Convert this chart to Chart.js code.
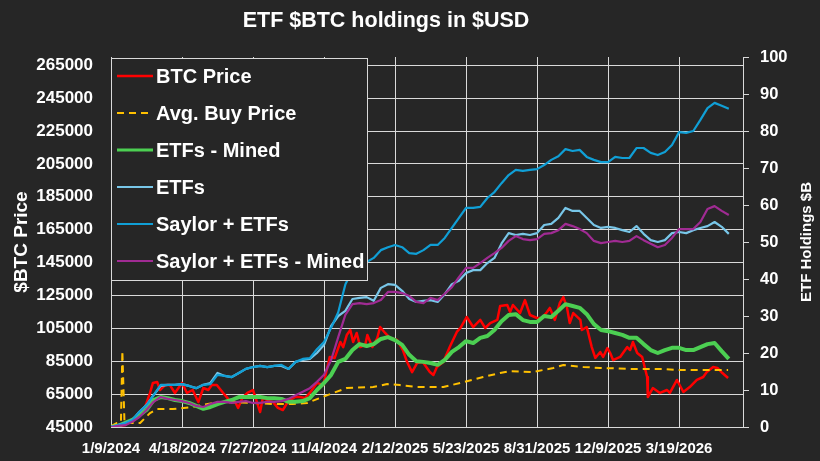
<!DOCTYPE html>
<html>
<head>
<meta charset="utf-8">
<script src="https://cdn.jsdelivr.net/npm/chart.js@4.4.1/dist/chart.umd.min.js"></script>
<style>
    html, body { margin: 0; padding: 0; background: #262626; }
    canvas { display: block; }
</style>
</head>
<body>
<canvas id="etf-chart" width="820" height="461"></canvas>
<script>
// Ngày tính từ 1/9/2024 (mỗi điểm cách nhau 10 ngày)
const days = [0, 10, 20, 30, 40, 50, 60, 70, 80, 90,
    100, 110, 120, 130, 140, 150, 160, 170, 180, 190,
    200, 210, 220, 230, 240, 250, 260, 270, 280, 290,
    300, 310, 320, 330, 340, 350, 360, 370, 380, 390,
    400, 410, 420, 430, 440, 450, 460, 470, 480, 490,
    500, 510, 520, 530, 540, 550, 560, 570, 580, 590,
    600, 610, 620, 630, 640, 650, 660, 670, 680, 690,
    700, 710, 720, 730, 740, 750, 760, 770, 780, 790,
    800, 810, 820, 830, 840, 850, 860, 870];

const tickLabels = ['1/9/2024', '4/18/2024', '7/27/2024', '11/4/2024', '2/12/2025',
    '5/23/2025', '8/31/2025', '12/9/2025', '3/19/2026'];

const priceTicks = [45000, 65000, 85000, 105000, 125000, 145000, 165000, 185000,
    205000, 225000, 245000, 265000];

// Giá BTC (trục trái) - lấy mẫu dày hơn để giữ các gai nhọn
const btcDays = [0, 10, 20, 30, 38, 48, 55, 59, 65, 69, 76, 83, 90, 97, 100, 107, 115, 123,
    130, 137, 142, 149, 158, 163, 168, 175, 179, 185, 192, 200, 210, 214, 221, 228, 235,
    242, 248, 252, 259, 266, 273, 280, 290, 299, 308, 315, 323, 327, 332, 337, 341, 346,
    351, 358, 361, 368, 375, 379, 386, 393, 403, 411, 417, 424, 431, 439, 449, 454, 459,
    468, 477, 487, 492, 501, 510, 520, 527, 534, 544, 548, 558, 562, 566, 576, 583, 590,
    600, 607, 614, 618, 625, 632, 637, 642, 646, 651, 661, 663, 670, 677, 682, 689, 693,
    699, 703, 707, 717, 727, 731, 735, 741, 748, 755, 756, 763, 773, 783, 787, 797, 806,
    815, 825, 834, 839, 848, 854, 861, 869];
const btcPrice = [45000, 45600, 46200, 49300, 51100, 57200, 65700, 71800, 72400, 67500,
    70500, 70500, 65700, 69900, 71800, 65700, 67500, 60200, 68700, 67500, 70500, 70500,
    65700, 63200, 60200, 60200, 56600, 62600, 65700, 67500, 54100, 63200, 60800, 60200,
    56600, 55300, 59600, 61400, 63200, 63200, 62600, 65700, 71800, 70500, 87600, 87000,
    96700, 93600, 100900, 104000, 96700, 102200, 93600, 94900, 100900, 93600, 99100,
    105800, 102200, 99100, 97900, 91800, 84500, 78400, 83900, 84500, 78400, 76600, 81500,
    84500, 93600, 102800, 105200, 111900, 105800, 110100, 105200, 108200, 110100, 118600,
    119200, 114900, 119200, 114300, 122200, 113100, 111300, 111300, 114900, 117400, 110100,
    120400, 124000, 118000, 108200, 114300, 110100, 104000, 105800, 93600, 87000, 90600,
    87600, 93000, 90000, 85700, 87600, 93600, 91800, 96700, 90000, 87600, 75400, 63200,
    68700, 65700, 67500, 65700, 73600, 66300, 69300, 73600, 75400, 78400, 81500, 80900,
    77800, 74800];

// Giá mua trung bình (trục trái, lấy mẫu riêng)
const avgDays = [0, 8, 14, 16, 19, 41, 55, 65, 87, 115, 144, 172, 200, 228, 256, 276, 294,
    313, 332, 369, 389, 407, 431, 468, 492, 524, 548, 562, 594, 623, 637, 665, 689,
    735, 777, 797, 869];
const avgBuyPrice = [45600, 47400, 48000, 91200, 47400, 47400, 53500, 55900, 55900, 57200,
    59600, 60200, 59600, 59000, 59000, 59600, 62600, 65700, 68700, 69300, 71100,
    70500, 69300, 69300, 71800, 75400, 77800, 79000, 78400, 80900, 82700, 81500,
    80900, 80300, 80300, 79700, 79700];

// Giá trị nắm giữ, tỷ USD (trục phải)
const etfsMined = [0, 0.3, 1.1, 1.9, 3.2, 4.6, 7.3, 8.1, 7.8, 7.3,
    7.0, 6.5, 5.7, 4.9, 5.4, 6.2, 6.8, 7.3, 8.1, 8.1,
    8.1, 8.1, 7.8, 7.8, 7.6, 6.8, 6.8, 7.0, 7.8, 10.0,
    11.9, 14.1, 17.6, 18.4, 20.8, 22.4, 21.9, 22.4, 23.8, 24.3,
    23.5, 22.2, 19.5, 17.8, 17.6, 17.3, 16.8, 18.1, 20.3, 21.6,
    23.2, 22.7, 24.1, 24.6, 26.2, 28.6, 30.3, 30.5, 28.9, 28.4,
    28.4, 30.0, 29.7, 31.4, 33.2, 32.7, 32.2, 30.5, 27.8, 26.2,
    25.9, 25.4, 24.9, 24.1, 24.1, 22.4, 20.8, 20.0, 20.8, 21.4,
    21.4, 20.8, 20.8, 21.6, 22.4, 22.7, 20.5, 18.4];

const etfs = [0, 0.5, 1.1, 1.9, 4.1, 5.9, 8.6, 11.1, 11.4, 11.4,
    11.6, 11.1, 10.5, 11.4, 11.9, 14.6, 13.8, 13.5, 14.6, 15.7,
    16.2, 16.5, 16.2, 16.5, 16.5, 15.7, 17.6, 18.1, 18.4, 20.0,
    22.2, 27.3, 30.0, 31.4, 34.6, 34.9, 35.1, 34.1, 37.6, 38.6,
    38.4, 36.8, 34.6, 33.8, 34.1, 34.3, 33.8, 35.9, 38.6, 39.5,
    41.6, 42.4, 42.4, 44.3, 45.7, 49.6, 52.4, 51.9, 52.2, 51.9,
    52.4, 54.6, 54.9, 56.5, 59.2, 58.4, 58.4, 56.5, 54.6, 53.8,
    54.1, 53.8, 53.2, 52.7, 54.3, 52.2, 50.5, 50.0, 50.5, 52.4,
    52.7, 52.4, 53.2, 53.8, 54.3, 55.4, 54.1, 52.2];

const saylorEtfs = [0, 0.5, 1.1, 1.9, 4.1, 5.9, 8.6, 11.4, 11.4, 11.4,
    11.6, 11.1, 10.5, 11.4, 11.6, 14.1, 13.8, 13.5, 14.6, 15.7,
    16.2, 16.5, 16.2, 16.5, 16.8, 15.7, 17.6, 18.4, 18.6, 21.0,
    23.0, 26.8, 31.0, 38.5, 42.4, 43.8, 44.6, 45.7, 47.8, 48.6,
    49.2, 48.6, 47.0, 46.8, 47.8, 49.2, 49.2, 51.1, 53.8, 56.5,
    59.2, 59.2, 59.5, 61.9, 63.5, 65.9, 68.1, 69.5, 69.2, 69.5,
    69.7, 70.8, 72.2, 73.2, 75.1, 74.6, 74.9, 73.0, 72.2, 71.6,
    71.6, 73.0, 72.7, 72.7, 75.4, 75.4, 74.1, 73.5, 74.3, 76.2,
    79.7, 79.5, 80.0, 83.0, 86.2, 87.6, 86.8, 86.0];

const saylorEtfsMined = [0, 0.3, 0.5, 1.4, 2.7, 4.6, 6.8, 8.1, 7.6, 7.3,
    7.0, 6.5, 5.7, 5.4, 6.2, 6.8, 6.8, 6.5, 6.8, 7.0,
    6.5, 6.5, 6.8, 6.8, 7.0, 7.6, 8.6, 9.5, 10.5, 12.2,
    14.1, 18.1, 24.3, 30.3, 33.2, 33.5, 33.2, 33.5, 34.3, 36.5,
    36.5, 36.2, 35.4, 33.8, 33.5, 34.9, 34.3, 36.0, 37.8, 40.5,
    43.0, 43.0, 44.3, 45.7, 47.0, 48.4, 50.3, 51.6, 50.8, 50.5,
    50.8, 52.2, 52.4, 53.2, 54.9, 54.3, 53.5, 52.4, 50.3, 49.7,
    50.0, 50.3, 50.0, 50.3, 51.6, 50.5, 49.5, 48.6, 49.2, 51.1,
    53.5, 53.5, 53.5, 55.4, 58.9, 59.7, 58.4, 57.3];

const FONT = "'Liberation Sans', Arial, sans-serif";
const TEXT = '#ffffff';
const GRID = '#d9d9d9';
const BG = '#262626';

function toPoints(xs, ys) {
    return ys.map((v, i) => ({ x: xs[i], y: v }));
}

// Nền, tiêu đề, chú thích và tên trục
const decorPlugin = {
    id: 'decor',
    beforeDraw(chart) {
        const ctx = chart.ctx;
        ctx.save();
        ctx.fillStyle = BG;
        ctx.fillRect(0, 0, chart.width, chart.height);
        ctx.restore();
    },
    afterDatasetsDraw(chart) {
        const ctx = chart.ctx;
        ctx.save();
        // Hộp chú thích
        ctx.fillStyle = BG;
        ctx.fillRect(111, 58, 256, 222);
        ctx.strokeStyle = GRID;
        ctx.lineWidth = 1;
        ctx.strokeRect(111.5, 58.5, 256, 222);

        chart.data.datasets.forEach((ds, i) => {
            const y = 76 + i * 37;
            ctx.beginPath();
            ctx.strokeStyle = ds.borderColor;
            ctx.lineWidth = Math.min(ds.borderWidth, 3);
            ctx.setLineDash(ds.borderDash || []);
            ctx.moveTo(117, y);
            ctx.lineTo(153, y);
            ctx.stroke();
            ctx.setLineDash([]);
            ctx.fillStyle = TEXT;
            ctx.font = 'bold 20px ' + FONT;
            ctx.textAlign = 'left';
            ctx.textBaseline = 'alphabetic';
            ctx.fillText(ds.label, 156, y + 7);
        });
        ctx.restore();
    },
    afterDraw(chart) {
        const ctx = chart.ctx;
        ctx.save();
        ctx.fillStyle = TEXT;
        ctx.textAlign = 'center';
        ctx.textBaseline = 'alphabetic';
        ctx.font = 'bold 21.5px ' + FONT;
        ctx.fillText('ETF $BTC holdings in $USD', 386, 27);

        ctx.save();
        ctx.translate(20, 242);
        ctx.rotate(-Math.PI / 2);
        ctx.font = 'bold 19px ' + FONT;
        ctx.fillText('$BTC Price', 0, 7);
        ctx.restore();

        ctx.save();
        ctx.translate(805, 242);
        ctx.rotate(-Math.PI / 2);
        ctx.font = 'bold 15px ' + FONT;
        ctx.fillText('ETF Holdings $B', 0, 5.5);
        ctx.restore();
        ctx.restore();
    }
};

const ctx = document.getElementById('etf-chart').getContext('2d');

new Chart(ctx, {
    type: 'line',
    data: {
        datasets: [
            {
                label: 'BTC Price',
                data: toPoints(btcDays, btcPrice),
                borderColor: '#ff0000',
                borderWidth: 2.5,
                yAxisID: 'y',
                order: 6
            },
            {
                label: 'Avg. Buy Price',
                data: toPoints(avgDays, avgBuyPrice),
                borderColor: '#ffc000',
                borderWidth: 2,
                borderDash: [7, 5],
                yAxisID: 'y',
                order: 5
            },
            {
                label: 'ETFs - Mined',
                data: toPoints(days, etfsMined),
                borderColor: '#4ccf52',
                borderWidth: 4,
                yAxisID: 'y1',
                order: 4
            },
            {
                label: 'ETFs',
                data: toPoints(days, etfs),
                borderColor: '#78c6e8',
                borderWidth: 2.2,
                yAxisID: 'y1',
                order: 3
            },
            {
                label: 'Saylor + ETFs',
                data: toPoints(days, saylorEtfs),
                borderColor: '#109fd6',
                borderWidth: 2.2,
                yAxisID: 'y1',
                order: 2
            },
            {
                label: 'Saylor + ETFs - Mined',
                data: toPoints(days, saylorEtfsMined),
                borderColor: '#a02b93',
                borderWidth: 2.2,
                yAxisID: 'y1',
                order: 1
            }
        ]
    },
    options: {
        responsive: false,
        animation: false,
        devicePixelRatio: 1,
        layout: { padding: { top: 57, left: 0, right: 0, bottom: 0 } },
        elements: {
            point: { radius: 0 },
            line: { tension: 0, borderJoinStyle: 'round', fill: false }
        },
        plugins: {
            legend: { display: false },
            title: { display: false },
            tooltip: { enabled: false }
        },
        scales: {
            x: {
                type: 'linear',
                position: 'bottom',
                min: 0,
                max: 890,
                afterBuildTicks(scale) {
                    scale.ticks = tickLabels.map((_, i) => ({ value: i * 100 }));
                },
                afterFit(scale) { scale.height = 34; },
                ticks: {
                    autoSkip: false,
                    maxRotation: 0,
                    padding: 13,
                    color: TEXT,
                    font: { family: FONT, size: 15, weight: 'bold' },
                    callback: (v) => tickLabels[Math.round(v / 100)]
                },
                grid: { color: GRID, lineWidth: 1, drawTicks: false },
                border: { display: true, color: GRID }
            },
            y: {
                position: 'left',
                min: 45000,
                max: 270000,
                afterBuildTicks(scale) {
                    scale.ticks = priceTicks.map(v => ({ value: v }));
                },
                afterFit(scale) { scale.width = 111; },
                ticks: {
                    padding: 18,
                    color: TEXT,
                    font: { family: FONT, size: 17, weight: 'bold' },
                    callback: (v) => String(v)
                },
                grid: { color: GRID, lineWidth: 1, drawTicks: false },
                border: { display: false }
            },
            y1: {
                position: 'right',
                min: 0,
                max: 100,
                afterFit(scale) { scale.width = 77; },
                ticks: {
                    stepSize: 10,
                    padding: 11,
                    color: TEXT,
                    font: { family: FONT, size: 16.5, weight: 'bold' },
                    callback: (v) => String(v)
                },
                grid: { drawOnChartArea: false, tickLength: 6, color: GRID, lineWidth: 1 },
                border: { display: true, color: GRID }
            }
        }
    },
    plugins: [decorPlugin]
});
</script>
</body>
</html>
